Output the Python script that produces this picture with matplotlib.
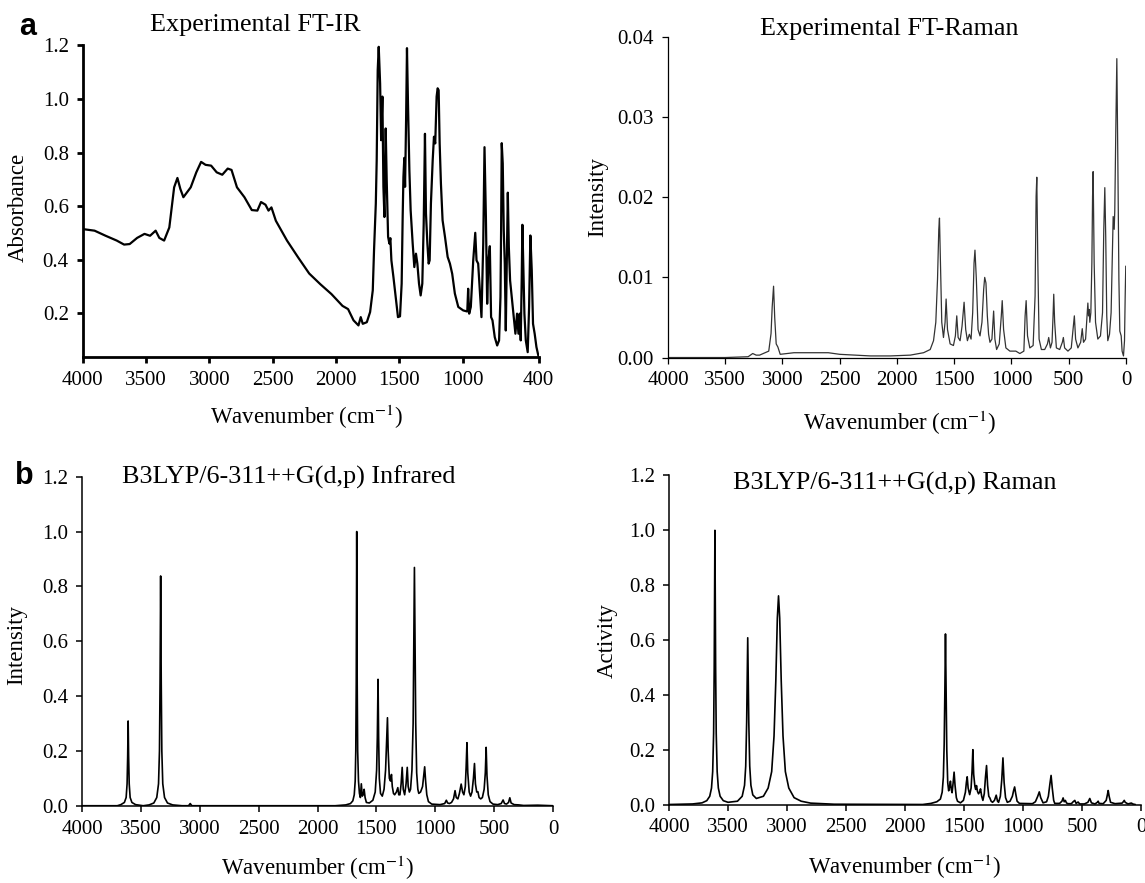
import matplotlib
matplotlib.use("Agg")
import matplotlib.pyplot as plt

# ── rcParams ────────────────────────────────────────────────────
plt.rcParams.update({
    "font.family":      "serif",
    "font.serif":       ["Liberation Serif", "DejaVu Serif"],
    "mathtext.fontset": "stix",
    "xtick.direction":  "out",
    "ytick.direction":  "out",
})

TICK_FS, LABEL_FS, TITLE_FS = 15, 16.5, 18.8

# ── (a) experimental FT-IR ──────────────────────────────────────
ir_exp_wn = [4000, 3906, 3819, 3731, 3673, 3629, 3570, 3512, 3468, 3424, 3395, 3357,
             3316, 3278, 3252, 3229, 3205, 3147, 3103, 3065, 3030, 2986, 2942, 2898,
             2855, 2825, 2782, 2723, 2665, 2621, 2592, 2557, 2533, 2510, 2475, 2387,
             2299, 2212, 2124, 2036, 1949, 1905,
             1862, 1823, 1805, 1789, 1757, 1731, 1710, 1700, 1686, 1679, 1671, 1663,
             1652, 1644, 1634, 1626, 1618, 1608, 1600, 1589, 1579, 1571, 1563, 1547,
             1529, 1511, 1495, 1482, 1474, 1468, 1461, 1455, 1447, 1440, 1432, 1421,
             1411, 1395, 1382, 1369, 1358, 1345, 1332, 1319, 1308, 1298, 1290, 1279,
             1269, 1261, 1251, 1237, 1227, 1217, 1206, 1198, 1190, 1182, 1172, 1159,
             1140, 1119, 1101, 1083, 1062, 1035, 996, 964, 957, 949, 936, 917, 901,
             891, 878, 865, 852, 838, 828, 817, 807, 797, 786, 776, 765, 747, 728,
             713, 702, 697, 692, 684, 676, 668, 660, 652, 644, 636, 626, 613, 597,
             584, 571, 560, 550, 542, 534, 529, 521, 513, 502, 487, 476, 466, 455,
             445, 432, 418, 400]
ir_exp_abs = [0.514, 0.508, 0.489, 0.471, 0.456, 0.458, 0.481, 0.496, 0.489, 0.508, 0.481, 0.471,
              0.520, 0.670, 0.705, 0.664, 0.633, 0.670, 0.726, 0.765, 0.754, 0.751, 0.726, 0.717,
              0.740, 0.735, 0.670, 0.633, 0.585, 0.583, 0.615, 0.605, 0.583, 0.595, 0.545, 0.471,
              0.408, 0.348, 0.308, 0.271, 0.227, 0.215,
              0.173, 0.154, 0.185, 0.160, 0.166, 0.204, 0.285, 0.435, 0.609, 0.771, 1.108, 1.195,
              1.058, 0.846, 1.009, 0.672, 0.559, 0.890, 0.697, 0.485, 0.460, 0.480, 0.397, 0.335,
              0.260, 0.185, 0.188, 0.310, 0.559, 0.709, 0.780, 0.672, 0.921, 1.190, 0.984, 0.734,
              0.584, 0.460, 0.372, 0.422, 0.385, 0.310, 0.266, 0.310, 0.534, 0.870, 0.572, 0.460,
              0.385, 0.397, 0.609, 0.771, 0.859, 0.834, 1.009, 1.040, 1.033, 0.834, 0.684, 0.547,
              0.485, 0.410, 0.385, 0.347, 0.273, 0.223, 0.210, 0.206, 0.291, 0.198, 0.223, 0.397, 0.500,
              0.397, 0.385, 0.285, 0.185, 0.460, 0.820, 0.559, 0.235, 0.397, 0.450, 0.185, 0.173, 0.110, 0.079,
              0.098, 0.260, 0.509, 0.835, 0.759, 0.509, 0.385, 0.135, 0.385, 0.650, 0.447, 0.322, 0.260, 0.185,
              0.123, 0.198, 0.123, 0.198, 0.098, 0.335, 0.530, 0.360, 0.198, 0.098, 0.054, 0.223, 0.490, 0.360,
              0.160, 0.123, 0.073, 0.035]

# ── experimental FT-Raman ───────────────────────────────────────
raman_exp_wn = [4000, 3500, 3300, 3260, 3230, 3200, 3120, 3100, 3090, 3078, 3068, 3055,
                3040, 3020, 2900, 2800, 2700, 2600, 2500, 2300, 2232, 2058, 1884, 1768,
                1710, 1681, 1661, 1646, 1635, 1629, 1620, 1609, 1594, 1580, 1571, 1559,
                1536, 1507, 1490, 1478, 1466, 1449, 1432, 1414, 1400, 1385, 1368, 1353,
                1339, 1327, 1319, 1307, 1292, 1275, 1258, 1243, 1234, 1223, 1211, 1200,
                1188, 1171, 1156, 1145, 1130, 1107, 1089, 1081, 1069, 1049, 1014, 962,
                927, 892, 881, 872, 860, 840, 811, 794, 785, 779, 770, 759, 739, 710,
                686, 675, 660, 646, 637, 631, 623, 608, 579, 556, 547, 536, 507, 478,
                460, 451, 440, 420, 396, 382, 371, 353, 342, 333, 327, 321, 316, 307,
                298, 292, 287, 278, 266, 246, 223, 205, 194, 185, 177, 168, 159, 144,
                130, 118, 112, 103, 98, 89, 80, 71, 62, 54, 42, 34, 22, 13, 7, 2, 0]
raman_exp_int = [0.0, 0.0, 0.0001, 0.0005, 0.0003, 0.0003, 0.0008, 0.003, 0.0063, 0.0089, 0.005, 0.0017,
                 0.0013, 0.0004, 0.0006, 0.0006, 0.0006, 0.0006, 0.0004, 0.00025, 0.0002, 0.0002, 0.0003, 0.0006,
                 0.001, 0.0021, 0.0044, 0.0098, 0.016, 0.0174, 0.0118, 0.0044, 0.0025, 0.0044, 0.0073, 0.0035,
                 0.0017, 0.0015, 0.0027, 0.0052, 0.0025, 0.0021, 0.0039, 0.0069, 0.0035, 0.0021, 0.0029, 0.0023,
                 0.0056, 0.0118, 0.0134, 0.0098, 0.0035, 0.0027, 0.0044, 0.0085, 0.0100, 0.0093, 0.0052, 0.0029,
                 0.0019, 0.0023, 0.0058, 0.0023, 0.001, 0.0017, 0.0052, 0.0071, 0.0035, 0.0012, 0.0008, 0.0008,
                 0.0005, 0.0008, 0.0052, 0.0071, 0.0027, 0.0012, 0.0015, 0.0077, 0.0201, 0.0225, 0.0118, 0.0023, 0.001, 0.001,
                 0.0017, 0.0025, 0.0012, 0.0019, 0.0052, 0.0079, 0.0044, 0.0012, 0.001, 0.0019, 0.0025, 0.0012, 0.0008, 0.0012,
                 0.0039, 0.0052, 0.0023, 0.0012, 0.0019, 0.0036, 0.0019, 0.0023, 0.0048, 0.0068, 0.0052, 0.006, 0.0044, 0.0056,
                 0.0118, 0.0201, 0.0232, 0.0118, 0.0044, 0.0023, 0.0027, 0.0056, 0.016, 0.0212, 0.0151, 0.0052, 0.0021, 0.0029,
                 0.0056, 0.0139, 0.0176, 0.016, 0.0183, 0.0284, 0.0373, 0.0243, 0.0098, 0.0033, 0.0027, 0.0008, 0.0002, 0.0021, 0.0077, 0.0114, 0.0114]

# ── (b) B3LYP/6-311++G(d,p) infrared ────────────────────────────
ir_calc_wn = [4000, 3700, 3670, 3640, 3625, 3617, 3612, 3608, 3604, 3599, 3591, 3576, 3545, 3480,
              3430, 3390, 3365, 3350, 3342, 3337, 3332, 3327, 3322, 3314, 3299, 3274, 3230, 3150,
              3095, 3081, 3067, 1850,
              1760, 1720, 1700, 1688, 1680, 1675, 1671, 1667, 1663, 1659, 1652, 1644, 1636, 1628,
              1620, 1612, 1604, 1596, 1585, 1560, 1530, 1510, 1498, 1492, 1486, 1481, 1475, 1465,
              1450, 1435, 1422, 1412, 1406, 1400, 1390, 1380, 1372, 1365, 1355, 1345, 1330, 1318,
              1310, 1300, 1290, 1281, 1272, 1260, 1248, 1238, 1230, 1220, 1210, 1198, 1188, 1182,
              1177, 1172, 1166, 1158, 1148, 1140, 1125, 1108, 1098, 1090, 1082, 1072, 1058, 1030,
              960, 920, 906, 895, 880, 862, 845, 832, 822, 808, 795, 780, 768, 757, 745, 738, 731,
              724, 712, 700, 688, 676, 667, 659, 648, 638, 628, 614, 600, 585, 575, 568, 561, 550,
              535, 510, 470, 440, 424, 412, 395, 378, 367, 356, 330, 290, 250, 130, 0]
ir_calc_int = [0.0, 0.0, 0.004, 0.012, 0.03, 0.08, 0.18, 0.309, 0.18, 0.08, 0.03, 0.012, 0.004, 0.0,
               0.003, 0.01, 0.03, 0.08, 0.2, 0.45, 0.838, 0.45, 0.2, 0.08, 0.03, 0.01, 0.003, 0.0,
               0.0, 0.008, 0.0, 0.0,
               0.003, 0.008, 0.018, 0.04, 0.09, 0.2, 0.45, 1.0, 0.45, 0.2, 0.09, 0.045, 0.03, 0.08,
               0.035, 0.04, 0.06, 0.03, 0.012, 0.01, 0.02, 0.05, 0.13, 0.25, 0.461, 0.25, 0.1, 0.045,
               0.035, 0.06, 0.13, 0.25, 0.321, 0.2, 0.1, 0.09, 0.114, 0.07, 0.045, 0.04, 0.05, 0.066,
               0.04, 0.04, 0.08, 0.14, 0.06, 0.04, 0.08, 0.14, 0.07, 0.05, 0.06, 0.13, 0.3, 0.6,
               0.869, 0.6, 0.3, 0.12, 0.06, 0.045, 0.05, 0.07, 0.11, 0.142, 0.09, 0.04, 0.015, 0.006,
               0.004, 0.008, 0.02, 0.01, 0.008, 0.012, 0.025, 0.055, 0.03, 0.025, 0.045, 0.079, 0.05, 0.04, 0.07, 0.14, 0.23,
               0.12, 0.05, 0.035, 0.05, 0.1, 0.154, 0.08, 0.05, 0.051, 0.03, 0.025, 0.03, 0.06, 0.12, 0.213, 0.11, 0.04,
               0.015, 0.006, 0.004, 0.008, 0.021, 0.008, 0.006, 0.012, 0.029, 0.01, 0.004, 0.003, 0.001, 0.002, 0.0]

# ── B3LYP/6-311++G(d,p) Raman ───────────────────────────────────
raman_calc_wn = [4000, 3800, 3720, 3680, 3655, 3640, 3630, 3622, 3617, 3611, 3605, 3600, 3592, 3582,
                 3567, 3540, 3500, 3420, 3380, 3360, 3350, 3342, 3333, 3324, 3316, 3306, 3290, 3260,
                 3200, 3160, 3130, 3110, 3095, 3082, 3072, 3062, 3049, 3034, 3014, 2985, 2940, 2880,
                 2800, 2600, 2000, 1850,
                 1780, 1730, 1700, 1685, 1675, 1668, 1662, 1657, 1652, 1646, 1638, 1630, 1622, 1615,
                 1608, 1601, 1592, 1584, 1576, 1565, 1555, 1530, 1505, 1488, 1480, 1473, 1465, 1452,
                 1440, 1432, 1425, 1418, 1408, 1401, 1394, 1386, 1377, 1368, 1360, 1350, 1340, 1328,
                 1318, 1309, 1300, 1290, 1281, 1270, 1258, 1242, 1227, 1216, 1207, 1192, 1180, 1170,
                 1160, 1148, 1133, 1110, 1090, 1080, 1071, 1062, 1050, 1030, 920, 895, 875, 862, 850,
                 830, 800, 785, 772, 762, 752, 740, 731, 690, 670, 660, 651, 641, 632, 620, 590, 575,
                 561, 550, 533, 520, 480, 450, 434, 420, 390, 370, 363, 355, 320, 295, 285, 278, 270,
                 258, 220, 160, 150, 142, 134, 110, 85, 80, 70, 50]
raman_calc_act = [0.0, 0.002, 0.006, 0.014, 0.03, 0.06, 0.12, 0.26, 0.5, 1.0, 0.5, 0.26, 0.12, 0.06,
                  0.03, 0.014, 0.008, 0.012, 0.03, 0.07, 0.14, 0.3, 0.608, 0.3, 0.14, 0.07, 0.035, 0.022,
                  0.03, 0.06, 0.12, 0.25, 0.45, 0.68, 0.761, 0.68, 0.45, 0.25, 0.12, 0.06, 0.025, 0.012,
                  0.005, 0.001, 0.0, 0.0,
                  0.004, 0.01, 0.02, 0.045, 0.1, 0.22, 0.42, 0.622, 0.42, 0.2, 0.08, 0.05, 0.065, 0.085,
                  0.055, 0.043, 0.08, 0.118, 0.07, 0.025, 0.012, 0.006, 0.015, 0.045, 0.08, 0.101, 0.06, 0.036,
                  0.06, 0.12, 0.2, 0.11, 0.067, 0.055, 0.069, 0.048, 0.039, 0.045, 0.057, 0.03, 0.015, 0.04,
                  0.1, 0.142, 0.07, 0.03, 0.024, 0.012, 0.008, 0.015, 0.034, 0.012, 0.008, 0.03, 0.09, 0.17,
                  0.08, 0.025, 0.008, 0.012, 0.03, 0.05, 0.064, 0.04, 0.012, 0.004, 0.003, 0.01, 0.03, 0.046, 0.025,
                  0.006, 0.01, 0.03, 0.075, 0.106, 0.06, 0.015, 0.004, 0.004, 0.012, 0.024, 0.01, 0.015, 0.006, 0.003, 0.003, 0.01,
                  0.015, 0.004, 0.009, 0.002, 0.002, 0.008, 0.022, 0.006, 0.002, 0.008, 0.012, 0.004, 0.003, 0.015, 0.035, 0.051, 0.03,
                  0.008, 0.003, 0.005, 0.01, 0.015, 0.008, 0.002, 0.005, 0.005, 0.002, 0.0]

# ── Figure Layout ───────────────────────────────────────────────
fig = plt.figure(figsize=(11.45, 8.83), dpi=100)
ax_ir  = fig.add_axes([0.0722, 0.5954, 0.3983, 0.3531])
ax_ram = fig.add_axes([0.5834, 0.5951, 0.4000, 0.3630])
ax_cir = fig.add_axes([0.0716, 0.0875, 0.4114, 0.3726])
ax_cra = fig.add_axes([0.5843, 0.0889, 0.4122, 0.3726])

def style(ax, spine_lw):
    for s in ("top", "right"):
        ax.spines[s].set_visible(False)
    for s in ("left", "bottom"):
        ax.spines[s].set_linewidth(spine_lw)
    ax.tick_params(labelsize=TICK_FS, width=spine_lw, length=4, pad=6)
    ax.patch.set_alpha(0)

# (a) FT-IR
ax_ir.plot(ir_exp_wn, ir_exp_abs, color="black", lw=1.6)
ax_ir.set_xlim(4000, 400)
ax_ir.set_ylim(0.035, 1.2)
ax_ir.set_xticks([4000, 3500, 3000, 2500, 2000, 1500, 1000, 400])
ax_ir.set_yticks([0.2, 0.4, 0.6, 0.8, 1.0, 1.2])
ax_ir.yaxis.set_major_formatter("{x:.1f}")
style(ax_ir, 2.0)

# FT-Raman
ax_ram.plot(raman_exp_wn, raman_exp_int, color="#333333", lw=0.9)
ax_ram.set_xlim(4000, 0)
ax_ram.set_ylim(0, 0.04)
ax_ram.set_xticks(range(4000, -1, -500))
ax_ram.set_yticks([0.0, 0.01, 0.02, 0.03, 0.04])
ax_ram.yaxis.set_major_formatter("{x:.2f}")
style(ax_ram, 0.9)

# (b) computed IR
ax_cir.plot(ir_calc_wn, ir_calc_int, color="black", lw=1.2)
ax_cir.set_xlim(4000, 0)
ax_cir.set_ylim(0, 1.2)
ax_cir.set_xticks(range(4000, -1, -500))
ax_cir.set_yticks([0.0, 0.2, 0.4, 0.6, 0.8, 1.0, 1.2])
ax_cir.yaxis.set_major_formatter("{x:.1f}")
style(ax_cir, 1.1)

# computed Raman
ax_cra.plot(raman_calc_wn, raman_calc_act, color="black", lw=1.2)
ax_cra.set_xlim(4000, 0)
ax_cra.set_ylim(0, 1.2)
ax_cra.set_xticks(range(4000, -1, -500))
ax_cra.set_yticks([0.0, 0.2, 0.4, 0.6, 0.8, 1.0, 1.2])
ax_cra.yaxis.set_major_formatter("{x:.1f}")
style(ax_cra, 1.1)

# titles, axis labels, panel letters
xlab = "Wavenumber (cm$^{-1}$)"
fig.text(0.2227, 0.972, "Experimental FT-IR", fontsize=TITLE_FS, ha="center", va="center")
fig.text(0.777, 0.967, "Experimental FT-Raman", fontsize=TITLE_FS, ha="center", va="center")
fig.text(0.2524, 0.4598, "B3LYP/6-311++G(d,p) Infrared", fontsize=TITLE_FS, ha="center", va="center")
fig.text(0.7817, 0.453, "B3LYP/6-311++G(d,p) Raman", fontsize=TITLE_FS, ha="center", va="center")

fig.text(0.268, 0.5277, xlab, fontsize=LABEL_FS, ha="center", va="center")
fig.text(0.786, 0.521, xlab, fontsize=LABEL_FS, ha="center", va="center")
fig.text(0.2777, 0.0175, xlab, fontsize=LABEL_FS, ha="center", va="center")
fig.text(0.790, 0.0185, xlab, fontsize=LABEL_FS, ha="center", va="center")

fig.text(0.0162, 0.7656, "Absorbance", fontsize=LABEL_FS, rotation=90, ha="center", va="center")
fig.text(0.5223, 0.777, "Intensity", fontsize=LABEL_FS, rotation=90, ha="center", va="center")
fig.text(0.0148, 0.2695, "Intensity", fontsize=LABEL_FS, rotation=90, ha="center", va="center")
fig.text(0.530, 0.275, "Activity", fontsize=LABEL_FS, rotation=90, ha="center", va="center")

fig.text(0.0245, 0.969, "a", fontsize=22, fontweight="bold", family="Liberation Sans", ha="center", va="center")
fig.text(0.021, 0.461, "b", fontsize=22, fontweight="bold", family="Liberation Sans", ha="center", va="center")

fig.savefig("out.png", dpi=100)
